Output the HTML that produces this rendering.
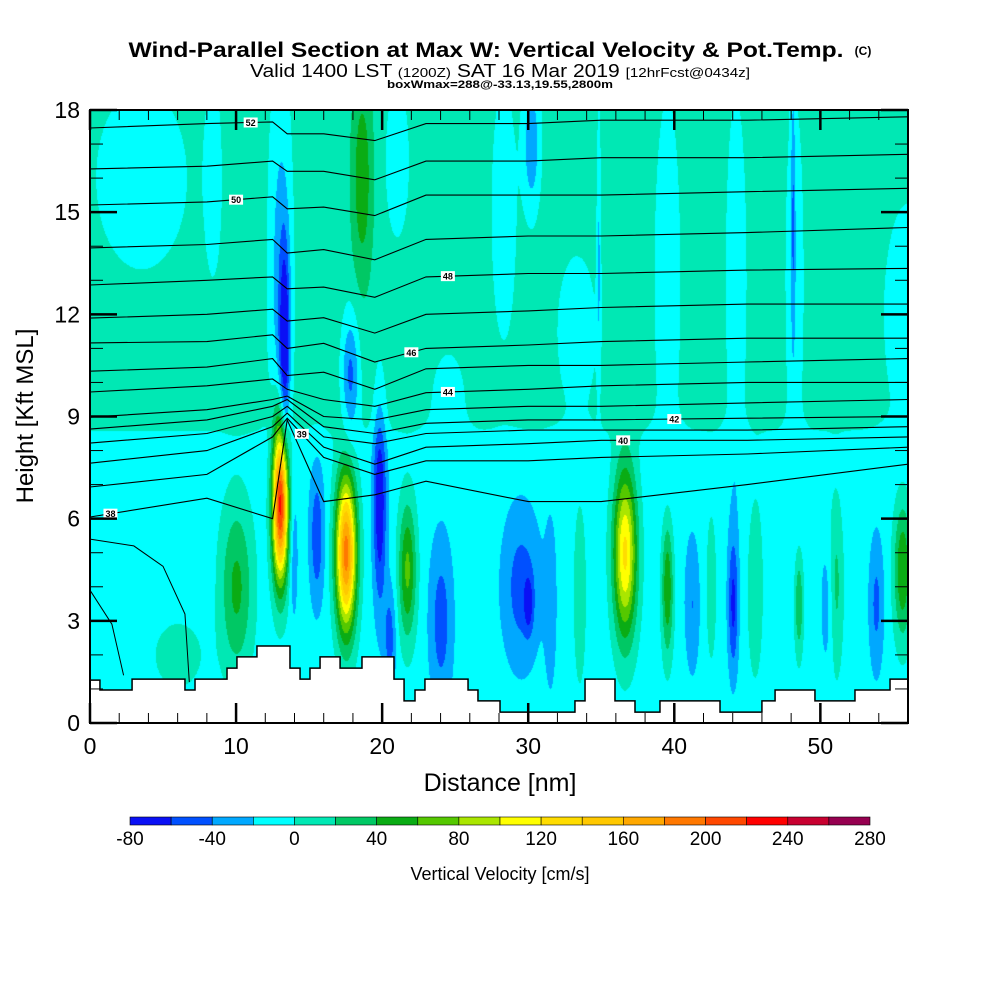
<!DOCTYPE html>
<html><head><meta charset="utf-8"><style>
html,body{margin:0;padding:0;background:#fff;width:1000px;height:1000px;overflow:hidden}
#wrap{position:relative;width:1000px;height:1000px}
canvas{position:absolute;left:90px;top:110px}
svg{position:absolute;left:0;top:0}
text{font-family:"Liberation Sans",sans-serif}
</style></head><body>
<div id="wrap">
<canvas id="field" width="818" height="613"></canvas>
<svg id="ov" width="1000" height="1000">
<text x="486" y="57" text-anchor="middle" font-size="21" font-weight="bold" textLength="715" lengthAdjust="spacingAndGlyphs">Wind-Parallel Section at Max W: Vertical Velocity &amp; Pot.Temp.</text>
<text x="863" y="55" text-anchor="middle" font-size="12" font-weight="bold">(C)</text>
<text x="500" y="77" text-anchor="middle" font-size="18" textLength="500" lengthAdjust="spacingAndGlyphs">Valid 1400 LST <tspan font-size="13">(1200Z)</tspan> SAT 16 Mar 2019 <tspan font-size="13">[12hrFcst@0434z]</tspan></text>
<text x="500" y="88" text-anchor="middle" font-size="11" font-weight="bold" textLength="226" lengthAdjust="spacingAndGlyphs">boxWmax=288@-33.13,19.55,2800m</text>
<text x="500" y="791" text-anchor="middle" font-size="25">Distance [nm]</text>
<text transform="translate(33,416) rotate(-90)" text-anchor="middle" font-size="24">Height [Kft MSL]</text>
<text x="500" y="880" text-anchor="middle" font-size="18">Vertical Velocity [cm/s]</text>
<g id="g"></g>
</svg>
</div>
<script>
// ---- data ----
const xTicks = [0,10,20,30,40,50];
const yTicks = [0,3,6,9,12,15,18];
const cbLevels = [-80,-60,-40,-20,0,20,40,60,80,100,120,140,160,180,200,220,240,260,280];
const cbLabels = [-80,-40,0,40,80,120,160,200,240,280];
const cbColors = ["#0a10f5","#0050ff","#00a8ff","#00ffff","#00e8b4","#00c864","#0aac14","#55c800","#aae600","#ffff00","#ffdc00","#ffc800","#ffa800","#ff7800","#ff4800","#ff0000","#c80030","#960050"];
// blobs of vertical velocity (nm, kft, cm/s, nm, kft)
const blobX   = [13,  17.5,21.7,36.6,39.5,10,  55.6,48.5,33.5,18.6,13.3,13.0,17.8,19.8,15.5,24.0,29.5,30.0,44.0,30.2,48.1,41.2,50.5,53.8,3.5, 8.4, 21.0,28.3,33.3,39.5,44.2,48.2,56.0,24.5,45.5,51.0,42.5,31.5,6.0, 13.9,20.5,34.8];
const blobY   = [6.5, 5.0, 4.5, 5.0, 4.0, 4.0, 4.5, 3.5, 3.8, 16.0,11.0,13.0,10.2,6.5, 5.5, 3.0, 4.0, 3.5, 3.5, 17.0,15.0,3.5, 3.5, 3.5, 16.0,16.0,16.5,15.0,11.5,13.0,13.0,13.0,12.0,9.5, 4.0, 4.0, 4.0, 3.5, 2.0, 5.0, 2.5, 14.0];
const blobAmp = [250, 200, 75,  135, 70,  55,  70,  50,  30,  45,  -75, -40, -55, -70, -45, -40, -40, -40, -55, -45, -35, -30, -25, -35, -22, -22, -22, -24, -22, -22, -22, -22, -24, -22, 22,  40,  20,  -25, 18,  -25, -40, -30];
const blobSx  = [0.55,0.7, 0.6, 0.8, 0.4, 1.1, 0.6, 0.3, 0.4, 0.7, 0.35,0.8, 0.6, 0.45,0.5, 0.8, 1.3, 0.3, 0.35,0.6, 0.15,0.5, 0.5, 0.5, 3.5, 0.6, 0.9, 0.9, 1.5, 1.0, 0.8, 0.7, 1.8, 1.2, 0.6, 0.5, 0.4, 0.4, 2.0, 0.3, 0.4, 0.15];
const blobSy  = [2.3, 2.3, 2.0, 2.5, 2.0, 2.5, 2.0, 1.5, 2.5, 3.0, 3.0, 6.0, 1.8, 3.0, 2.0, 2.5, 2.3, 0.8, 2.0, 2.0, 4.0, 2.0, 2.0, 2.0, 3.0, 3.0, 2.5, 4.0, 2.5, 6.0, 6.0, 6.0, 3.5, 1.5, 3.0, 2.5, 2.5, 2.5, 1.2, 2.0, 1.5, 4.0];
// terrain steps
const terrEdges = [0,0.68,2.88,6.5,7.19,9.38,10.06,11.43,13.69,14.38,15.06,15.75,17.12,18.62,20.81,21.5,22.25,22.93,25.88,26.56,28.07,33.2,33.89,35.94,37.31,39.02,43.13,46.0,46.9,49.63,52.37,54.77,56];
const terrH = [1.26,0.97,1.29,0.97,1.29,1.61,1.94,2.26,1.61,1.29,1.61,1.94,1.61,1.94,1.29,0.65,0.97,1.29,0.97,0.65,0.32,0.65,1.29,0.65,0.32,0.65,0.32,0.65,0.97,0.65,0.97,1.29];
// potential temperature contours
const thX = [0,8,12.5,13.5,16,19.5,23,30,35,45,56];
const thLevels = [52,51,50,49,48,47,46,45,44,43,42,41,40,39,38];
const thH = [
 [17.47,17.6,17.65,17.3,17.3,17.1,17.6,17.6,17.7,17.7,17.8],
 [16.27,16.35,16.5,16.2,16.2,15.95,16.5,16.5,16.6,16.6,16.7],
 [15.21,15.3,15.45,15.1,15.15,14.9,15.5,15.5,15.5,15.6,15.7],
 [13.95,14.05,14.2,13.8,13.9,13.6,14.2,14.3,14.3,14.4,14.55],
 [12.86,13.0,13.1,12.75,12.8,12.5,13.1,13.2,13.2,13.3,13.35],
 [11.89,12.0,12.15,11.8,11.9,11.45,12.0,12.1,12.2,12.3,12.3],
 [11.16,11.2,11.4,11.0,11.15,10.6,11.0,11.1,11.2,11.3,11.3],
 [10.33,10.45,10.7,10.2,10.3,9.8,10.4,10.5,10.5,10.6,10.7],
 [9.72,9.9,10.1,9.8,9.5,9.3,9.7,9.8,9.9,10.0,10.0],
 [8.98,9.2,9.5,9.6,9.0,8.9,9.2,9.3,9.3,9.4,9.5],
 [8.63,8.9,9.3,9.5,8.7,8.5,8.8,8.9,8.9,8.95,9.0],
 [8.22,8.5,9.0,9.3,8.4,8.2,8.5,8.6,8.6,8.6,8.7],
 [7.63,8.0,8.7,9.1,8.1,7.6,8.1,8.2,8.3,8.3,8.4],
 [6.93,7.3,8.4,8.95,7.8,7.3,7.7,7.7,7.8,7.9,8.1],
 [6.05,6.6,6.0,8.9,6.5,6.7,7.1,6.5,6.5,7.0,7.6]
];
const thLabelX = [11,10,10,6.5,24.5,9.5,22,6.5,24.5,20.5,40,9.5,36.5,14.5,1.4];
// ---- drawing ----
const X0=90,X1=908,Y0=723,Y1=110;
const sx=v=>X0+(v/56)*(X1-X0), sy=v=>Y0-(v/18)*(Y0-Y1);
const cv=document.getElementById('field'),ctx=cv.getContext('2d');
const W=cv.width,H=cv.height,img=ctx.createImageData(W,H);
const rgb=cbColors.map(c=>[parseInt(c.substr(1,2),16),parseInt(c.substr(3,2),16),parseInt(c.substr(5,2),16)]);
for(let j=0;j<H;j++){const ky=(H-j)/H*18;
 const base=-10+20/(1+Math.exp(-(ky-8.6)*3));
 for(let i=0;i<W;i++){const nx=i/W*56;let v=base;
  for(let b=0;b<blobX.length;b++){const dx=(nx-blobX[b])/blobSx[b],dy=(ky-blobY[b])/blobSy[b];const d=dx*dx+dy*dy;if(d<9)v+=blobAmp[b]*Math.exp(-d);}
  let k=Math.floor((v+80)/20);k=Math.max(0,Math.min(17,k));const c=rgb[k],p=(j*W+i)*4;
  img.data[p]=c[0];img.data[p+1]=c[1];img.data[p+2]=c[2];img.data[p+3]=255;}}
ctx.putImageData(img,0,0);
const g=document.getElementById('g');const NS='http://www.w3.org/2000/svg';
function el(t,a,txt){const e=document.createElementNS(NS,t);for(const k in a)e.setAttribute(k,a[k]);if(txt!==undefined)e.textContent=txt;g.appendChild(e);return e;}
// contours
thLevels.forEach((lv,li)=>{
 const pts=thX.map((x,i)=>sx(x).toFixed(1)+','+sy(thH[li][i]).toFixed(1)).join(' ');
 const p=el('polyline',{points:pts,fill:'none',stroke:'#000','stroke-width':1.1});
 
 
});
thLevels.forEach((lv,li)=>{
 const lx=thLabelX[li];let k=0;while(k<thX.length-2&&thX[k+1]<lx)k++;
 const t=(lx-thX[k])/(thX[k+1]-thX[k]);const h=thH[li][k]+t*(thH[li][k+1]-thH[li][k]);
 if(li%2==0||li>=12){
 const r=el('rect',{x:sx(lx)-7,y:sy(h)-5,width:14,height:10,fill:'#fff'});
 
 
 const tx=el('text',{x:sx(lx),y:sy(h)+3.5,'font-size':9,'font-weight':'bold','text-anchor':'middle'},String(lv));
 
 }
});
// extra low contours
const lowPts=[[0,5.4],[3,5.2],[5,4.6],[6.5,3.2],[6.8,1.2]];
const lp=el('polyline',{points:lowPts.map(p=>sx(p[0])+','+sy(p[1])).join(' '),fill:'none',stroke:'#000','stroke-width':1});


const lowPts2=[[0,3.9],[1.5,2.9],[2.3,1.4]];
const lp2=el('polyline',{points:lowPts2.map(p=>sx(p[0])+','+sy(p[1])).join(' '),fill:'none',stroke:'#000','stroke-width':1});


// terrain
let tp=sx(0)+','+sy(0);
for(let i=0;i<terrH.length;i++){tp+=' '+sx(terrEdges[i])+','+sy(terrH[i])+' '+sx(terrEdges[i+1])+','+sy(terrH[i]);}
tp+=' '+sx(56)+','+sy(0);
const tr=el('polygon',{points:tp,fill:'#fff',stroke:'#000','stroke-width':1.5});


// frame
const fr=el('rect',{x:X0,y:Y1,width:X1-X0,height:Y0-Y1,fill:'none',stroke:'#000','stroke-width':2});


// ticks
for(let v=0;v<=18;v++){const major=v%3==0,L=major?27:13,y=sy(v);
 const a=el('line',{x1:X0,y1:y,x2:X0+L,y2:y,stroke:'#000','stroke-width':major?2.5:1});
 
 
 const b=el('line',{x1:X1,y1:y,x2:X1-L,y2:y,stroke:'#000','stroke-width':major?2.5:1});
 
 }
for(let v=0;v<=56;v+=2){const major=v%10==0,L=major?20:10,x=sx(v);
 const a=el('line',{x1:x,y1:Y0,x2:x,y2:Y0-L,stroke:'#000','stroke-width':major?2.5:1});
 
 
 const b=el('line',{x1:x,y1:Y1,x2:x,y2:Y1+L,stroke:'#000','stroke-width':major?2.5:1});
 
 }
yTicks.forEach(v=>{const t=el('text',{x:80,y:sy(v)+8,'font-size':23,'text-anchor':'end'},String(v));
 
 });
xTicks.forEach(v=>{const t=el('text',{x:sx(v),y:754,'font-size':23,'text-anchor':'middle'},String(v));
 
 });
// colorbar
const CB0=130,CB1=870,cw=(CB1-CB0)/cbColors.length;
cbColors.forEach((c,i)=>{const r=el('rect',{x:CB0+i*cw,y:817,width:cw,height:8,fill:c,stroke:'#000','stroke-width':0.6});
 
 });
cbLabels.forEach(v=>{const x=CB0+(v-cbLevels[0])/(cbLevels[cbLevels.length-1]-cbLevels[0])*(CB1-CB0);
 const t=el('text',{x:x,y:845,'font-size':19,'text-anchor':'middle'},String(v));
 
 });
</script>
</body></html>
